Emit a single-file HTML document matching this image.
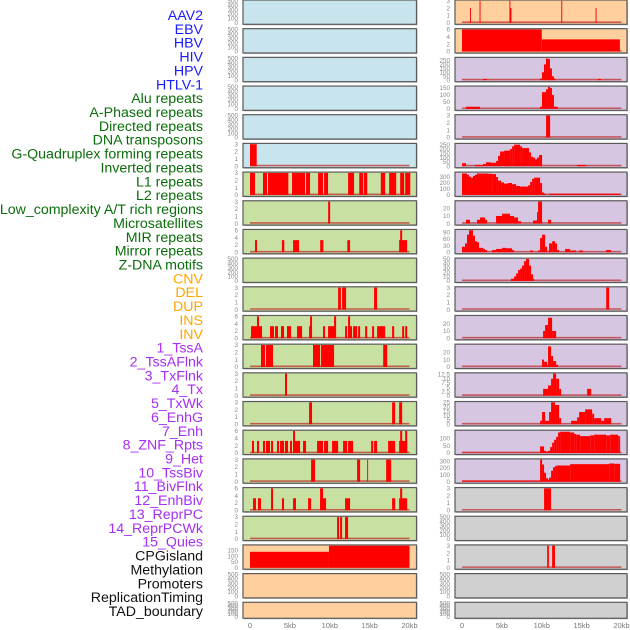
<!DOCTYPE html>
<html><head><meta charset="utf-8">
<style>
html,body{margin:0;padding:0;background:#fff;}
svg{display:block;}
.lab{font-family:"Liberation Sans",sans-serif;font-size:14.2px;}
.tk{font-family:"Liberation Sans",sans-serif;font-size:6.3px;fill:#8a8a8a;}
.xt{font-family:"Liberation Sans",sans-serif;font-size:7.5px;fill:#777;}
</style></head>
<body>
<svg id="chart" width="630" height="630" viewBox="0 0 630 630" xmlns="http://www.w3.org/2000/svg"></svg>
<script>
const trackNames = ["AAV2","EBV","HBV","HIV","HPV","HTLV-1","Alu repeats","A-Phased repeats","Directed repeats","DNA transposons","G-Quadruplex forming repeats","Inverted repeats","L1 repeats","L2 repeats","Low_complexity A/T rich regions","Microsatellites","MIR repeats","Mirror repeats","Z-DNA motifs","CNV","DEL","DUP","INS","INV","1_TssA","2_TssAFlnk","3_TxFlnk","4_Tx","5_TxWk","6_EnhG","7_Enh","8_ZNF_Rpts","9_Het","10_TssBiv","11_BivFlnk","12_EnhBiv","13_ReprPC","14_ReprPCWk","15_Quies","CPGisland","Methylation","Promoters","ReplicationTiming","TAD_boundary"];
const trackGroup = ["v","v","v","v","v","v","r","r","r","r","r","r","r","r","r","r","r","r","r","s","s","s","s","s","c","c","c","c","c","c","c","c","c","c","c","c","c","c","c","o","o","o","o","o"];
const yMax = [500,500,500,500,500,3, 3,3,6,500,3,6,3,3,3,6,3,6,3, 192,500,500, 3,6,280,158,3,255,370,29,100,50,3,30,30,13,25,150,320, 3,500,3,500,500];
const yTicks = [
 [0,100,200,300,400,500],[0,100,200,300,400,500],[0,100,200,300,400,500],[0,100,200,300,400,500],[0,100,200,300,400,500],[0,1,2,3],
 [0,1,2,3],[0,1,2,3],[0,2,4,6],[0,100,200,300,400,500],[0,1,2,3],[0,2,4,6],[0,1,2,3],[0,1,2,3],[0,1,2,3],[0,2,4,6],[0,1,2,3],[0,2,4,6],[0,1,2,3],
 [0,50,100,150],[0,100,200,300,400,500],[0,100,200,300,400,500],
 [0,1,2,3],[0,2,4,6],[0,50,100,150,200,250],[0,50,100,150],[0,1,2,3],[0,50,100,150,200,250],[0,100,200,300],[0,10,20],[0,30,60,90],[0,10,20,30,40,50],[0,1,2,3],[0,10,20],[0,10,20],[0,2.5,5,7.5,10,12.5],[0,5,10,15,20,25],[0,50,100],[0,100,200,300],
 [0,1,2,3],[0,100,200,300,400,500],[0,1,2,3],[0,100,200,300,400,500],[0,100,200,300,400,500]
];
const xTickValues = [0,5,10,15,20];
const xTickLabels = ["0","5kb","10kb","15kb","20kb"];
// segments: [startKb, endKb, value]
const trackSegments = [
 [],[],[],[],[],
 [[0,0.84,3]],
 [[0,0.63,3],[1.63,2.13,3],[2.26,4.81,3],[5.27,6.9,3],[7.03,7.53,3],[8.54,9.16,3],[9.29,9.79,3],[12.3,13.05,3],[13.7,14.2,3],[14.3,14.7,3],[16.4,16.95,3],[17.45,18.33,3],[18.83,19.33,3],[19.46,20.1,3]],
 [[9.8,10.05,3]],
 [[0.63,0.88,3.3],[4.0,4.3,3.3],[5.4,6.15,3.3],[8.8,9.2,3.3],[12.2,12.55,3.3],[18.7,19.7,3.3],[18.83,19.08,6]],
 [],
 [[11.05,11.4,3],[11.55,12.05,3],[15.56,15.94,3]],
 [[0.13,1.51,3.3],[2.51,3.01,3.3],[3.14,3.51,3.3],[3.89,4.27,3.3],[4.64,5.15,3.3],[5.9,6.53,3.3],[7.41,7.78,3.3],[9.16,9.41,3.3],[9.79,10.67,3.3],[11.92,12.18,3.3],[12.3,12.8,3.3],[12.93,13.43,3.3],[13.56,13.81,3.3],[14.44,14.69,3.3],[15.31,15.56,3.3],[15.94,16.95,3.3],[17.82,18.08,3.3],[19.08,19.33,3.3],[19.46,19.71,3.3],[0.88,1.13,6],[7.53,7.78,6],[10.54,10.8,6],[12.3,12.55,6]],
 [[1.38,1.88,3],[2.0,2.89,3],[7.9,8.79,3],[8.91,10.54,3],[16.7,17.2,3]],
 [[4.39,4.64,3]],
 [[7.41,7.78,3],[17.82,18.2,3],[18.7,19.08,3]],
 [[0.25,0.5,3.3],[0.88,1.13,3.3],[1.63,1.88,3.3],[2.0,2.51,3.3],[2.64,2.89,3.3],[3.39,3.64,3.3],[3.77,4.27,3.3],[4.39,4.77,3.3],[5.02,5.27,3.3],[5.4,6.28,3.3],[6.65,7.03,3.3],[8.41,9.16,3.3],[9.29,9.79,3.3],[10.29,11.05,3.3],[11.67,12.18,3.3],[12.3,12.93,3.3],[15.19,15.44,3.3],[15.56,15.94,3.3],[17.32,18.2,3.3],[18.7,19.71,3.3],[5.4,5.65,6],[18.83,19.08,6],[19.46,19.71,6]],
 [[7.66,8.16,3],[13.43,13.81,3],[14.69,14.81,3],[17.07,17.7,3]],
 [[0.38,0.75,3.3],[1.0,1.38,3.3],[4.0,4.27,3.3],[5.4,5.77,3.3],[7.28,7.66,3.3],[8.79,9.54,3.3],[11.92,12.55,3.3],[17.82,18.2,3.3],[18.7,19.71,3.3],[2.64,2.89,6],[8.79,9.16,6],[18.83,19.08,6]],
 [[10.92,11.17,3],[11.3,11.55,3],[11.92,12.3,3]],
 [[0,9.9,139],[9.9,20.0,192]],
 [],[],
 [[1.0,1.12,2],[2.2,2.32,3],[5.95,6.07,3],[6.0,6.2,2],[12.45,12.57,3],[16.75,16.87,2]],
 [[0,10,6],[10,19.8,3.3]],
 [[2.63,3.13,15],[9.78,10.03,20],[10.03,10.28,100],[10.28,10.53,200],[10.53,10.78,275],[10.78,11.03,270],[11.03,11.28,150],[11.28,11.53,50],[11.53,11.7,20],[17.05,17.43,15]],
 [[0.5,2.26,15],[9.78,10.03,15],[10.03,10.53,120],[10.53,10.78,140],[10.78,11.03,158],[11.03,11.28,150],[11.28,11.53,100],[11.53,12.0,15]],
 [[10.54,11.05,3]],
 [[0,0.5,35],[1.63,2.64,15],[2.64,3.01,25],[3.01,3.64,45],[3.64,4.27,40],[4.27,4.52,60],[4.52,4.77,120],[4.77,5.27,170],[5.27,6.03,180],[6.03,6.28,200],[6.28,6.53,230],[6.53,7.28,250],[7.28,7.53,230],[7.53,8.41,210],[8.41,8.66,160],[8.66,8.91,110],[8.91,9.16,100],[9.16,9.41,80],[9.41,9.67,100],[9.67,10.04,130],[14.44,15.56,15]],
 [[0,0.63,360],[0.63,0.88,340],[0.88,1.13,310],[1.13,1.38,290],[1.38,1.63,320],[1.63,1.88,340],[1.88,3.26,360],[3.26,3.77,355],[3.77,4.27,350],[4.27,4.52,300],[4.52,4.9,240],[4.9,5.27,210],[5.27,5.77,190],[5.77,6.28,200],[6.28,6.78,180],[6.78,7.28,150],[7.28,8.28,140],[8.28,8.54,160],[8.54,8.79,220],[8.79,9.04,270],[9.04,9.79,290],[9.79,10.04,200],[10.04,10.29,40],[10.29,10.54,20],[10.92,19.83,20]],
 [[0.5,1.0,5],[1.88,2.26,5],[2.26,2.89,8],[2.89,3.14,5],[4.27,5.02,10],[5.02,6.03,13],[6.03,6.53,10],[6.53,7.03,8],[7.03,7.41,3],[8.91,9.41,4],[9.41,9.54,15],[9.54,10.04,29],[10.79,11.17,5]],
 [[0,0.38,25],[0.38,0.63,40],[0.63,0.88,80],[0.88,1.38,100],[1.38,1.63,75],[1.63,1.88,50],[1.88,2.13,45],[2.13,2.64,20],[2.64,2.89,15],[2.89,3.14,10],[3.77,4.27,10],[4.27,5.02,15],[5.02,5.52,20],[5.52,6.28,18],[6.28,6.53,10],[8.54,8.91,8],[9.54,9.79,8],[9.79,10.04,65],[10.04,10.42,80],[10.42,10.67,25],[10.79,10.92,5],[10.92,11.3,40],[11.3,11.67,50],[11.67,11.92,40],[11.92,12.18,10],[12.93,13.56,15],[13.56,14.31,8],[14.69,15.19,8],[18.08,18.7,10]],
 [[6.15,6.53,5],[6.53,6.78,10],[6.78,7.03,17],[7.03,7.28,25],[7.28,7.53,28],[7.53,7.78,35],[7.78,8.03,45],[8.03,8.41,50],[8.41,8.66,35],[8.66,8.91,15],[8.91,9.04,5]],
 [[18.08,18.45,3]],
 [[10.17,10.42,10],[10.42,10.79,18],[10.79,11.3,28],[11.3,11.8,10]],
 [[10.04,10.29,10],[10.29,10.67,7],[10.67,10.79,3],[10.79,11.17,28],[11.17,11.42,15],[11.42,11.8,8],[11.8,12.05,3]],
 [[10.17,10.79,4],[10.79,11.17,6],[11.17,11.42,10],[11.42,11.8,13],[11.8,12.18,10],[12.18,12.43,4],[15.69,16.19,4]],
 [[9.79,10.04,4],[10.04,10.42,14],[10.42,10.92,4],[10.92,11.17,14],[11.17,11.67,25],[11.67,12.18,22],[12.18,12.43,7],[13.68,14.44,4],[14.44,14.69,8],[14.69,15.44,14],[15.44,16.32,17],[16.32,16.57,12],[16.57,17.45,7],[17.45,17.82,4],[17.82,18.7,7]],
 [[0,9.79,3],[9.79,10.29,45],[10.29,10.54,15],[10.54,10.79,10],[10.79,11.05,15],[11.05,11.3,40],[11.3,11.55,70],[11.55,11.8,90],[11.8,12.05,110],[12.05,12.3,140],[12.3,13.56,145],[13.56,14.06,140],[14.06,14.31,130],[14.31,14.81,125],[14.81,16.07,115],[16.07,16.57,120],[16.57,18.08,125],[18.08,18.58,120],[18.58,19.58,125],[19.58,19.83,115]],
 [[0,9.79,15],[9.79,10.04,320],[10.04,10.29,250],[10.29,10.54,130],[10.54,10.79,50],[10.79,10.92,30],[10.92,11.17,60],[11.17,11.42,160],[11.42,11.67,210],[11.67,11.92,230],[11.92,13.56,235],[13.56,18.45,255],[18.45,19.08,265],[19.08,19.83,260]],
 [[10.29,11.17,3]],
 [],
 [[10.68,10.9,3],[11.3,11.66,3]],
 [],[]
];
const panelBg = [
 "#c8e4ec","#c8e4ec","#c8e4ec","#c8e4ec","#c8e4ec","#c8e4ec",
 "#c8e1a3","#c8e1a3","#c8e1a3","#c8e1a3","#c8e1a3","#c8e1a3","#c8e1a3","#c8e1a3","#c8e1a3","#c8e1a3","#c8e1a3","#c8e1a3","#c8e1a3",
 "#ffd09e","#ffd09e","#ffd09e","#ffd09e","#ffd09e",
 "#d6c6e2","#d6c6e2","#d6c6e2","#d6c6e2","#d6c6e2","#d6c6e2","#d6c6e2","#d6c6e2","#d6c6e2","#d6c6e2","#d6c6e2","#d6c6e2","#d6c6e2","#d6c6e2","#d6c6e2",
 "#d0d0d0","#d0d0d0","#d0d0d0","#d0d0d0","#d0d0d0"];

const NS = "http://www.w3.org/2000/svg";
const svg = document.getElementById("chart");
const labelColor = {v:"#1a1aff", r:"#0a6e0a", s:"#ffa500", c:"#a62ff0", o:"#111111"};
const ROWS = 22, STEP = 28.68;
function mk(tag, attrs, parent){ const e=document.createElementNS(NS,tag); for(const k in attrs) e.setAttribute(k,attrs[k]); (parent||svg).appendChild(e); return e; }

trackNames.forEach((name,i)=>{
  const t = mk("text",{x:203,y:(20+i*13.86).toFixed(2),"text-anchor":"end",class:"lab",fill:labelColor[trackGroup[i]]});
  t.textContent = name;
  
  
});

function xScale(col){ const x0 = col===0 ? 250 : 462; return kb => x0 + kb/20*159.5; }

trackNames.forEach((name,i)=>{
  const col = i < ROWS ? 0 : 1;
  const row = i % ROWS;
  const top = row*STEP;
  const h = row===ROWS-1 ? 16 : 24.3;
  const left = col===0 ? 243 : 455;
  const right = col===0 ? 416.5 : 627;
  const g = mk("g",{});
  
  
  mk("rect",{x:left+1,y:top+1,width:right-left,height:h,fill:"#bbb"},g);
  const bg = mk("rect",{x:left,y:top,width:right-left,height:h,fill:panelBg[i]},g);
  
  
  const yb = top + h - 1.5, yt = top + 0.8;
  const yS = v => yb - v/yMax[i]*(yb-yt);
  const xs = xScale(col);
  if (trackSegments[i].length) {
    const bl = mk("line",{x1:xs(0),x2:xs(20),y1:yb-0.6,y2:yb-0.6,stroke:"#c03030","stroke-width":1.6,"stroke-opacity":0.75},g);
    
    
  }
  trackSegments[i].forEach(s=>{
    const y = yS(s[2]);
    const r = mk("rect",{x:xs(s[0]).toFixed(2),y:y.toFixed(2),width:Math.max(0.8,xs(s[1])-xs(s[0])).toFixed(2),height:(yb-y).toFixed(2),fill:"#ff0000"},g);
    
    
  });
  const fr = mk("rect",{x:left,y:top,width:right-left,height:h,fill:"none",stroke:"#5a5a5a","stroke-width":1.2},g);
  
  
  yTicks[i].forEach(v=>{
    const t = mk("text",{x:left-5,y:(yS(v)+2.2).toFixed(2),"text-anchor":"end",class:"tk"},g);
    t.textContent = String(v);
    
    
  });
});

[0,1].forEach(col=>{
  const xs = xScale(col);
  xTickValues.forEach((v,j)=>{
    const t = mk("text",{x:xs(v).toFixed(2),y:628,"text-anchor":"middle",class:"xt"});
    t.textContent = xTickLabels[j];
    
    
  });
});
</script>
</body></html>
